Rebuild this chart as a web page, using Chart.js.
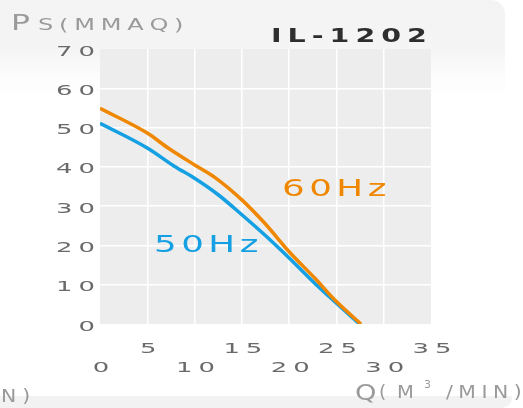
<!DOCTYPE html>
<html>
<head>
<meta charset="utf-8">
<script src="https://cdn.jsdelivr.net/npm/chart.js@4"></script>
<style>
  body { margin: 0; background: #fff; }
  #wrap { position: relative; width: 523px; height: 408px; overflow: hidden; background: #fff; }
  #topPanel { position: absolute; left: 0; top: 0; width: 505px; height: 100px;
    border-top-right-radius: 14px;
    background: linear-gradient(#f3f3f3 0px, #f5f5f5 50px, #fcfcfc 75px, #fff 100px); }
  #bottomBand { position: absolute; left: 0; top: 396px; width: 512px; height: 12px;
    border-bottom-right-radius: 10px; background: #f2f2f2; }
  canvas { position: absolute; left: 0; top: 0; }
</style>
</head>
<body>
<div id="wrap">
  <div id="topPanel"></div>
  <div id="bottomBand"></div>
  <canvas id="chart" width="523" height="408"></canvas>
</div>
<script>
// flow Q (m3/min) and static pressure Ps (mmAq)
const flow60 = [0, 5.0, 7.2, 10.0, 12.1, 15.0, 17.4, 20.0, 22.7, 25.0, 27.6];
const ps60   = [54.9, 48.6, 44.8, 40.5, 37.4, 31.6, 25.7, 18.4, 11.7, 5.7, 0];
const flow50 = [0, 5.0, 7.9, 10.0, 12.5, 15.0, 17.4, 20.0, 22.7, 25.0, 27.45];
const ps50   = [51.1, 44.8, 40.1, 37.1, 32.9, 27.8, 22.7, 16.8, 10.4, 5.3, 0];
const seriesNames = ["60Hz", "50Hz"];
const xTicks = [0, 5, 10, 15, 20, 25, 30, 35];
const yTicks = [0, 10, 20, 30, 40, 50, 60, 70];

const ORANGE = "#f08700";
const BLUE = "#14a0e2";
const GRAY = "#9a9a9a";
const TICK = "#6a6a6a";
const FONT = '"DejaVu Sans", sans-serif';

function pts(xs, ys) {
  return xs.map((x, i) => ({ x: x, y: ys[i] }));
}

// wide, spaced text drawn glyph by glyph (the original uses an extended face)
// spacing is in screen pixels, sx stretches each glyph horizontally
function txt(ctx, s, x, y, size, color, spacing, weight, sx, align) {
  sx = sx || 1;
  ctx.save();
  ctx.font = (weight || "normal") + " " + size + "px " + FONT;
  ctx.fillStyle = color;
  ctx.textAlign = "left";
  ctx.textBaseline = "alphabetic";
  const chars = s.split("");
  const widths = chars.map(c => ctx.measureText(c).width * sx);
  const w = widths.reduce((a, b) => a + b, 0) + spacing * (chars.length - 1);
  let cx = x;
  if (align === "center") cx -= w / 2;
  if (align === "right") cx -= w;
  chars.forEach((c, i) => {
    ctx.save();
    ctx.translate(cx, y);
    ctx.scale(sx, 1);
    ctx.fillText(c, 0, 0);
    ctx.restore();
    cx += widths[i] + spacing;
  });
  ctx.restore();
  return w;
}

const decor = {
  id: "decor",
  beforeDraw(chart) {
    const { ctx, chartArea: a } = chart;
    ctx.save();
    ctx.fillStyle = "#ecedec";
    ctx.fillRect(a.left, a.top, a.right - a.left, a.bottom - a.top);
    ctx.restore();
  },
  afterDraw(chart) {
    const ctx = chart.ctx;
    const xs = chart.scales.x, ys = chart.scales.y;
    // tick labels, placed by the chart's scales
    ys.ticks.forEach(t => {
      txt(ctx, String(t.value), 95, ys.getPixelForValue(t.value) + 6.5, 14, TICK, 6, "normal", 1.85, "right");
    });
    xs.ticks.forEach(t => {
      const upper = (t.value / 5) % 2 === 1; // staggered rows
      txt(ctx, String(t.value), xs.getPixelForValue(t.value) + 1, upper ? 353 : 372, 14, TICK, 6, "normal", 1.85, "center");
    });
    // y axis title
    txt(ctx, "P", 11, 30, 21, GRAY, 0, "normal", 1.5);
    txt(ctx, "S(MMAQ)", 38, 30, 16, GRAY, 5.8, "normal", 1.5);
    // model name
    txt(ctx, "IL-1202", 271, 41.5, 19, "#2e2e2e", 6, "bold", 1.5);
    // curve labels
    txt(ctx, seriesNames[0], 282, 195.5, 23, ORANGE, 4.5, "normal", 1.55);
    txt(ctx, seriesNames[1], 154, 252, 23, BLUE, 4.5, "normal", 1.55);
    // x axis title
    txt(ctx, "Q", 355, 400, 21, GRAY, 0, "normal", 1.3);
    txt(ctx, "(", 379, 398, 17, GRAY, 0, "normal", 1.1);
    txt(ctx, "M", 397, 398, 17, GRAY, 0, "normal", 1.15);
    txt(ctx, "3", 424, 388, 10, GRAY, 0, "normal", 1.1);
    txt(ctx, "/MIN)", 446, 398, 17, GRAY, 5.5, "normal", 1.2);
    // cut-off label of the neighbouring chart
    txt(ctx, "N)", 1, 402, 17, GRAY, 6, "normal", 1.2);
  }
};

function edgeClear(lo, hi) {
  return (c) => (c.tick && (c.tick.value === lo || c.tick.value === hi)) ? "rgba(0,0,0,0)" : "#ffffff";
}

new Chart(document.getElementById("chart"), {
  type: "line",
  data: {
    datasets: [
      { label: seriesNames[0], data: pts(flow60, ps60), borderColor: ORANGE, borderWidth: 3.5,
        pointRadius: 0, cubicInterpolationMode: "monotone", fill: false },
      { label: seriesNames[1], data: pts(flow50, ps50), borderColor: BLUE, borderWidth: 3.5,
        pointRadius: 0, cubicInterpolationMode: "monotone", fill: false }
    ]
  },
  options: {
    responsive: false,
    animation: false,
    devicePixelRatio: 1,
    layout: { padding: { top: 49, right: 92, left: 0, bottom: 0 } },
    plugins: { legend: { display: false }, tooltip: { enabled: false } },
    scales: {
      x: {
        type: "linear",
        min: 0, max: 35,
        afterFit: (s) => { s.height = 84; },
        afterBuildTicks: (s) => { s.ticks = xTicks.map(v => ({ value: v })); },
        border: { display: false },
        grid: { color: edgeClear(0, 35), lineWidth: 1.5, drawTicks: false },
        ticks: { display: false }
      },
      y: {
        min: 0, max: 70,
        afterFit: (s) => { s.width = 100; },
        afterBuildTicks: (s) => { s.ticks = yTicks.map(v => ({ value: v })); },
        border: { display: false },
        grid: { color: edgeClear(0, 70), lineWidth: 1.5, drawTicks: false },
        ticks: { display: false }
      }
    }
  },
  plugins: [decor]
});
</script>
</body>
</html>
